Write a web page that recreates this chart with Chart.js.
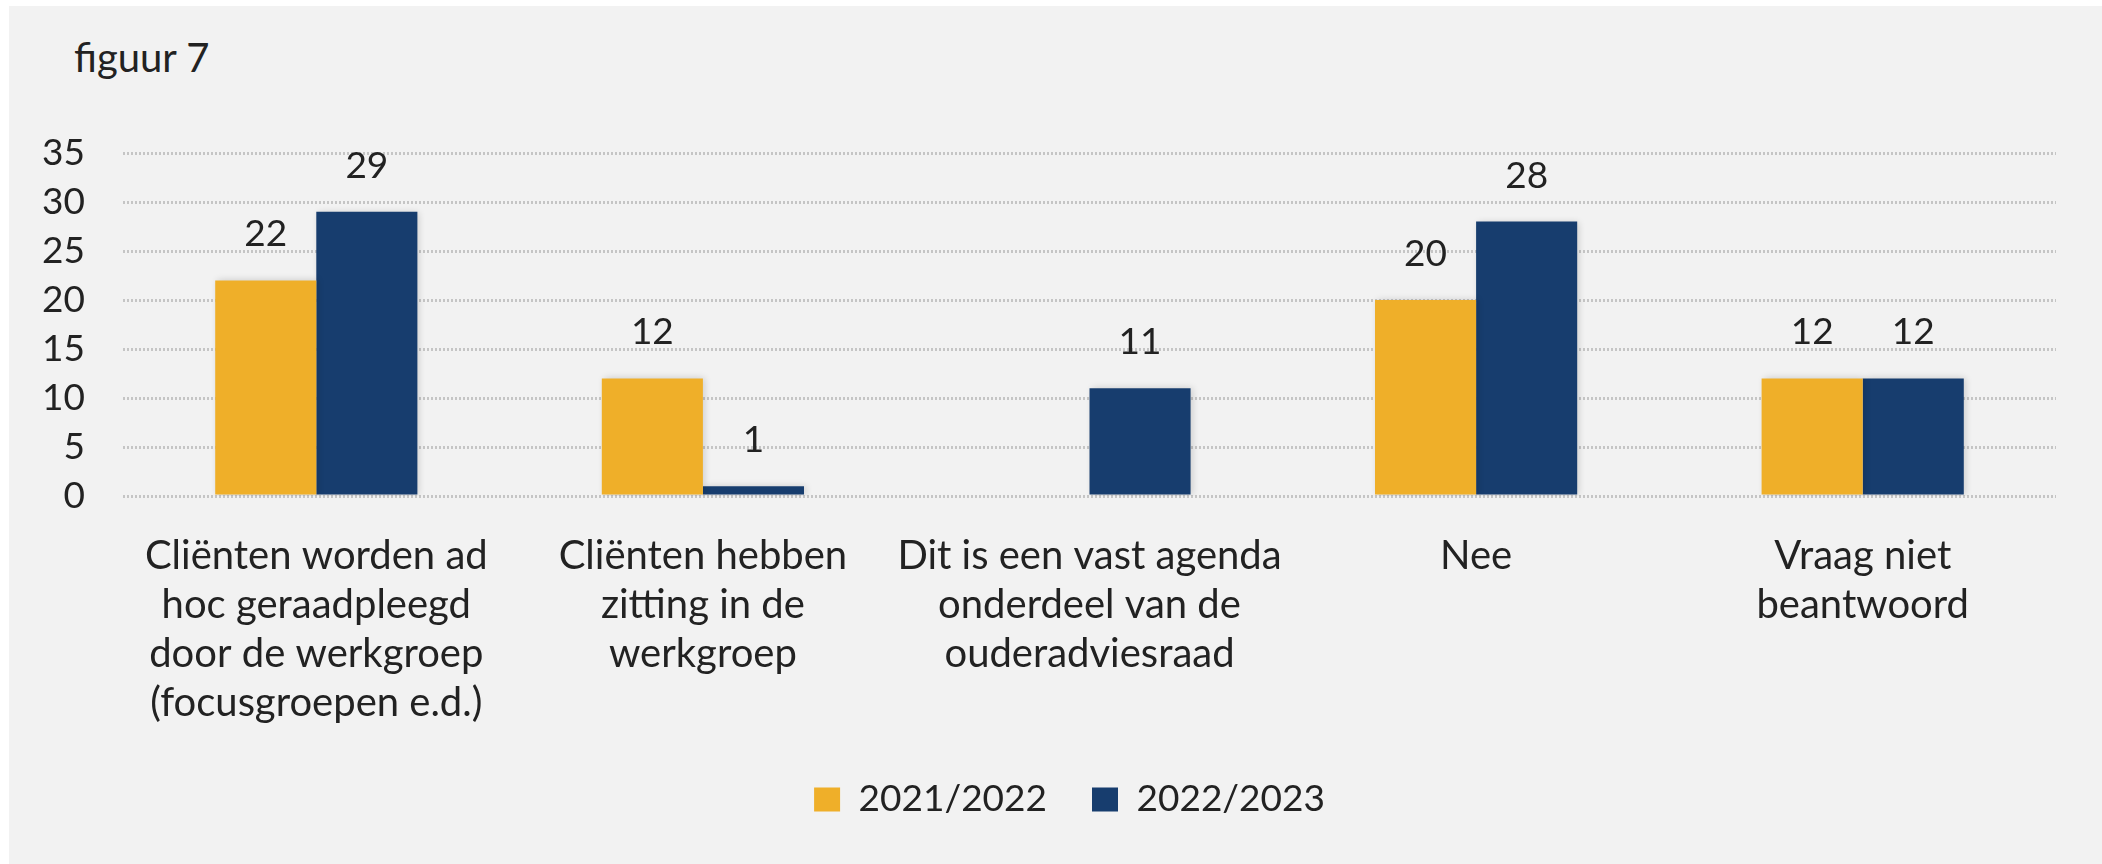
<!DOCTYPE html>
<html>
<head>
<meta charset="utf-8">
<script src="https://cdn.jsdelivr.net/npm/chart.js@4.4.1/dist/chart.umd.min.js"></script>
<style>
    html, body { margin: 0; padding: 0; background: #fff; }
    #wrap { position: relative; width: 2102px; height: 864px; overflow: hidden; }
    #panel { position: absolute; left: 9px; top: 6px; right: 0; bottom: 0; background: #f2f2f2; }
    #title { position: absolute; left: 74px; top: 33px; font: 40px Lato, sans-serif; line-height: 1.2; color: #222; }
    #chart { position: absolute; left: 0; top: 0; }
</style>
</head>
<body>
<div id="wrap">
    <div id="panel"></div>
    <div id="title">figuur 7</div>
    <canvas id="chart" width="2102" height="864"></canvas>
</div>
<script>
/* ── Data ─────────────────────────────────────────────────────── */

const CATEGORIES = [
    ['Cliënten worden ad', 'hoc geraadpleegd', 'door de werkgroep', '(focusgroepen e.d.)'],
    ['Cliënten hebben', 'zitting in de', 'werkgroep'],
    ['Dit is een vast agenda', 'onderdeel van de', 'ouderadviesraad'],
    ['Nee'],
    ['Vraag niet', 'beantwoord'],
];
const SERIES_NAMES = ['2021/2022', '2022/2023'];
const VALUES_2021 = [22, 12, null, 20, 12];
const VALUES_2022 = [29, 1, 11, 28, 12];
const Y_TICKS = { min: 0, max: 35, step: 5 };

const ORANGE = '#efaf29';
const NAVY = '#173d6e';
const TEXT = '#222222';
const FONT = 'Lato, sans-serif';

/* ── Plugins ──────────────────────────────────────────────────── */

// soft shadow behind the bars, like the Excel original
const barShadow = {
    id: 'barShadow',
    beforeDatasetsDraw(chart) {
        const ctx = chart.ctx;
        ctx.save();
        ctx.shadowColor = 'rgba(0,0,0,0.16)';
        ctx.shadowBlur = 7;
        ctx.shadowOffsetX = 2;
    },
    afterDatasetsDraw(chart) {
        chart.ctx.restore();
    },
};

// value labels above every bar
const valueLabels = {
    id: 'valueLabels',
    afterDatasetsDraw(chart) {
        const ctx = chart.ctx;
        ctx.save();
        ctx.font = `37px ${FONT}`;
        ctx.fillStyle = TEXT;
        ctx.textAlign = 'center';
        ctx.textBaseline = 'middle';
        chart.data.datasets.forEach((ds, i) => {
            const meta = chart.getDatasetMeta(i);
            meta.data.forEach((bar, j) => {
                const v = ds.data[j];
                if (v === null || v === undefined) return;
                ctx.fillText(String(v), bar.x, bar.y - 46);
            });
        });
        ctx.restore();
    },
};

// nudge the legend a little to the left (Excel puts less gap between swatch and text)
const legendNudge = {
    id: 'legendNudge',
    afterLayout(chart) {
        if (chart.legend) chart.legend.left -= 40;
    },
};

/* ── Chart ────────────────────────────────────────────────────── */

new Chart(document.getElementById('chart'), {
    type: 'bar',
    data: {
        labels: CATEGORIES,
        datasets: [
            { label: SERIES_NAMES[0], data: VALUES_2021, backgroundColor: ORANGE, borderWidth: 0 },
            { label: SERIES_NAMES[1], data: VALUES_2022, backgroundColor: NAVY, borderWidth: 0 },
        ],
    },
    options: {
        responsive: false,
        devicePixelRatio: 1,
        animation: false,
        layout: { padding: { top: 153, right: 46, left: 0, bottom: 36 } },
        datasets: { bar: { categoryPercentage: 0.523, barPercentage: 1 } },
        scales: {
            x: {
                grid: { display: false },
                border: { display: false },
                ticks: {
                    color: TEXT,
                    font: { family: FONT, size: 40, lineHeight: 1.225 },
                    padding: 28,
                    maxRotation: 0,
                    autoSkip: false,
                },
                afterFit(s) { s.height = 240; },
            },
            y: {
                min: Y_TICKS.min,
                max: Y_TICKS.max,
                // dotted light-grey gridlines (dash lives on border in v4)
                grid: { color: 'rgba(185,185,185,0.8)', lineWidth: 3, drawTicks: false },
                border: { display: false, dash: [2, 2] },
                ticks: {
                    stepSize: Y_TICKS.step,
                    color: TEXT,
                    font: { family: FONT, size: 37 },
                    padding: 38,
                },
                afterFit(s) { s.width = 123; },
            },
        },
        plugins: {
            legend: {
                position: 'bottom',
                fullSize: false,
                labels: {
                    color: TEXT,
                    font: { family: FONT, size: 37 },
                    boxWidth: 26,
                    boxHeight: 24,
                    padding: 45,
                },
            },
            tooltip: { enabled: false },
        },
    },
    plugins: [barShadow, valueLabels, legendNudge],
});
</script>
</body>
</html>
